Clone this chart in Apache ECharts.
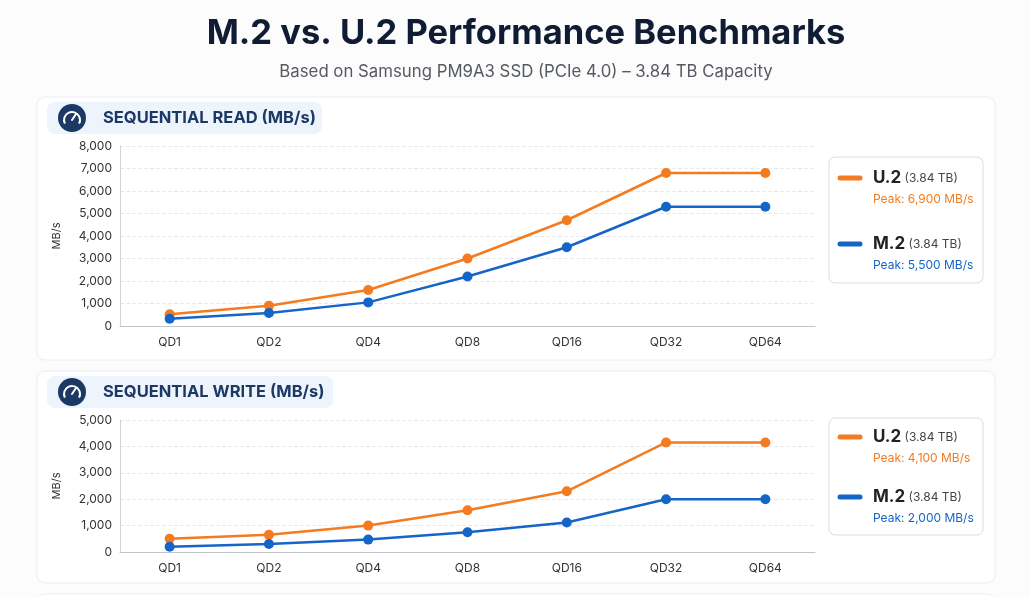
<!DOCTYPE html>
<html>
<head>
<meta charset="utf-8">
<script src="https://cdn.jsdelivr.net/npm/echarts@6/dist/echarts.min.js"></script>
<style>
  html, body { margin: 0; padding: 0; background: #fcfcfd; }
  #main { width: 1030px; height: 597px; }
</style>
</head>
<body>
<div id="main"></div>
<script>
// queue depths on the x axis
var queueDepths = ['QD1', 'QD2', 'QD4', 'QD8', 'QD16', 'QD32', 'QD64'];

// sequential read, MB/s
var readU2 = [520, 900, 1600, 3000, 4700, 6800, 6800];
var readM2 = [320, 580, 1050, 2200, 3500, 5300, 5300];

// sequential write, MB/s
var writeU2 = [500, 650, 1000, 1580, 2300, 4150, 4150];
var writeM2 = [200, 300, 470, 750, 1120, 2000, 2000];

// peak figures quoted in the legend boxes
var peakRead = [6900, 5500];
var peakWrite = [4100, 2000];

var ORANGE = '#f47b20';
var BLUE = '#1565c8';
var NAVY = '#1c3966';
var FONT = 'Inter, "Noto Sans", sans-serif';

var myChart = echarts.init(document.getElementById('main'));

function fmt(v) {
    return v.toLocaleString('en-US');
}

// card + header pill + gauge icon
function panel(y, h, pillW, label) {
    return [
        { type: 'rect', shape: { x: 37, y: y, width: 958, height: h, r: 8 },
          style: { fill: '#fff', stroke: '#ebedf0', lineWidth: 1 }, z: -10 },
        { type: 'rect', shape: { x: 47, y: y + 5, width: pillW, height: 32, r: 8 },
          style: { fill: '#eef4fc' }, z: -5 },
        { type: 'circle', shape: { cx: 72, cy: y + 21, r: 14 }, style: { fill: NAVY } },
        { type: 'arc', shape: { cx: 72, cy: y + 23, r: 8, startAngle: Math.PI * 0.85, endAngle: Math.PI * 2.15 },
          style: { stroke: '#fff', lineWidth: 2, fill: null } },
        { type: 'line', shape: { x1: 72, y1: y + 23, x2: 76, y2: y + 17 },
          style: { stroke: '#fff', lineWidth: 2, lineCap: 'round' } },
        { type: 'text', x: 103, y: y + 21,
          style: { text: label, font: 'bold 16.5px ' + FONT, fill: NAVY, verticalAlign: 'middle' } }
    ];
}

// legend box with two entries
function legendBox(y, h, peaks, rowY) {
    var names = ['U.2', 'M.2'];
    var cols = [ORANGE, BLUE];
    var out = [
        { type: 'rect', shape: { x: 829, y: y, width: 154, height: h, r: 6 },
          style: { fill: '#fff', stroke: '#d9dce0', lineWidth: 1 } }
    ];
    for (var i = 0; i < 2; i++) {
        var ry = rowY[i];
        out.push(
            { type: 'line', shape: { x1: 840, y1: ry, x2: 860, y2: ry },
              style: { stroke: cols[i], lineWidth: 5, lineCap: 'round' } },
            { type: 'text', x: 873, y: ry,
              style: { text: '{a|' + names[i] + '} {b|(3.84 TB)}', verticalAlign: 'middle',
                rich: {
                    a: { font: 'bold 17px ' + FONT, fill: '#222' },
                    b: { font: '12px ' + FONT, fill: '#444' }
                } } },
            { type: 'text', x: 873, y: ry + 21,
              style: { text: 'Peak: ' + fmt(peaks[i]) + ' MB/s', font: '12px ' + FONT,
                fill: cols[i], verticalAlign: 'middle' } }
        );
    }
    return out;
}

function xAxis(gridIndex) {
    return {
        type: 'category', gridIndex: gridIndex, data: queueDepths, boundaryGap: true,
        axisLine: { lineStyle: { color: '#bfc3c8' } },
        axisTick: { show: false },
        axisLabel: { color: '#333', fontSize: 12, fontFamily: FONT, margin: 10 }
    };
}

function yAxis(gridIndex, max) {
    return {
        type: 'value', gridIndex: gridIndex, min: 0, max: max, interval: 1000,
        name: 'MB/s', nameLocation: 'middle', nameGap: 58,
        nameTextStyle: { color: '#333', fontSize: 11, fontFamily: FONT },
        axisLine: { show: true, lineStyle: { color: '#d0d3d7' } },
        axisTick: { show: false },
        axisLabel: { color: '#333', fontSize: 12, fontFamily: FONT, formatter: fmt },
        splitLine: { lineStyle: { color: '#e8e9eb', type: 'dashed' } }
    };
}

function line(name, data, color, idx) {
    return {
        name: name, type: 'line', data: data, xAxisIndex: idx, yAxisIndex: idx,
        symbol: 'circle', symbolSize: 10,
        lineStyle: { color: color, width: 2.5 },
        itemStyle: { color: color },
        animation: false
    };
}

myChart.setOption({
    backgroundColor: '#fcfcfd',
    title: {
        text: 'M.2 vs. U.2 Performance Benchmarks',
        subtext: 'Based on Samsung PM9A3 SSD (PCIe 4.0) – 3.84 TB Capacity',
        left: 521, textAlign: 'center', top: 11, itemGap: 12,
        textStyle: { fontSize: 34.5, fontWeight: 'bold', color: '#101c33', fontFamily: FONT },
        subtextStyle: { fontSize: 16.8, color: '#555a60', fontFamily: FONT }
    },
    grid: [
        { left: 120, right: 215, top: 146, height: 180 },
        { left: 120, right: 215, top: 420, height: 132 }
    ],
    xAxis: [xAxis(0), xAxis(1)],
    yAxis: [yAxis(0, 8000), yAxis(1, 5000)],
    series: [
        line('U.2', readU2, ORANGE, 0),
        line('M.2', readM2, BLUE, 0),
        line('U.2', writeU2, ORANGE, 1),
        line('M.2', writeM2, BLUE, 1)
    ],
    graphic: [].concat(
        panel(97, 263, 275, 'SEQUENTIAL READ (MB/s)'),
        legendBox(157, 126, peakRead, [178, 244]),
        panel(371, 212, 286, 'SEQUENTIAL WRITE (MB/s)'),
        legendBox(418, 117, peakWrite, [437, 497]),
        [{ type: 'rect', shape: { x: 37, y: 594, width: 958, height: 20, r: 8 },
           style: { fill: '#fff', stroke: '#ebedf0', lineWidth: 1 }, z: -10 }]
    )
});
</script>
</body>
</html>
